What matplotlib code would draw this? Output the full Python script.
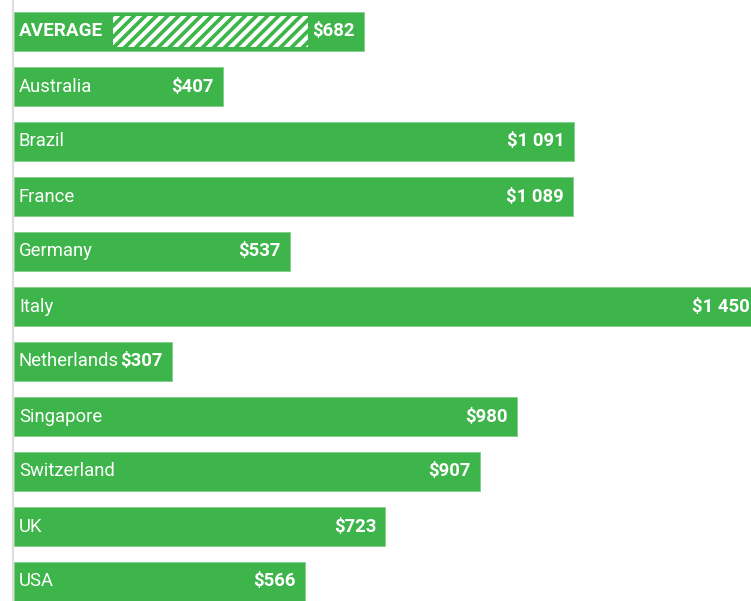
import matplotlib.pyplot as plt
from matplotlib.patches import Rectangle

plt.rcParams['font.family'] = ['Roboto', 'DejaVu Sans']
plt.rcParams['hatch.linewidth'] = 3.0

labels = ['AVERAGE', 'Australia', 'Brazil', 'France', 'Germany', 'Italy',
          'Netherlands', 'Singapore', 'Switzerland', 'UK', 'USA']
values = [682, 407, 1091, 1089, 537, 1450, 307, 980, 907, 723, 566]

green = '#3db54a'

W, H = 751, 601
fig = plt.figure(figsize=(W / 100, H / 100), dpi=100)
ax = fig.add_axes([14 / W, 0, 1 - 14 / W, 1])

px = 0.5133  # pixels per dollar
ax.set_xlim(0, (W - 14) / px)
ax.set_ylim((H - 31.5) / 55, -31.5 / 55)

ypos = list(range(len(values)))
ax.barh(ypos, values, height=39 / 55, color=green, edgecolor='#7fd089',
        linewidth=0.6, zorder=2)

fmt = lambda v: '$' + format(v, ',').replace(',', ' ')
name_texts, val_texts = [], []
for y, lab, v in zip(ypos, labels, values):
    bold = lab == 'AVERAGE'
    # baseline sits 5 px below the bar centre
    name_texts.append(ax.annotate(lab, (0, y), xytext=(5, -5), textcoords='offset pixels',
                                  ha='left', va='baseline', color='white',
                                  fontsize=13.6 if bold else 13.3,
                                  fontweight='bold' if bold else 'normal', zorder=4))
    val_texts.append(ax.annotate(fmt(v), (v, y), xytext=(-9, -5), textcoords='offset pixels',
                                 ha='right', va='baseline', color='white', fontsize=13.3,
                                 fontweight='bold', zorder=4, annotation_clip=False))

# striped filler between the average label and its value
fig.canvas.draw()
r = fig.canvas.get_renderer()
inv = ax.transData.inverted()
x0 = inv.transform((name_texts[0].get_window_extent(r).x1 + 10, 0))[0]
x1 = inv.transform((val_texts[0].get_window_extent(r).x0 - 5, 0))[0]
ax.add_patch(Rectangle((x0, -15.5 / 55), x1 - x0, 31 / 55, facecolor=green,
                       edgecolor='white', hatch='///', linewidth=0, zorder=3))

for s in ['top', 'right', 'bottom']:
    ax.spines[s].set_visible(False)
ax.spines['left'].set_color('#dddddd')
ax.spines['left'].set_linewidth(1.5)
ax.spines['left'].set_position(('outward', 1))
ax.set_xticks([])
ax.set_yticks([])

fig.savefig('out.png', dpi=100)
